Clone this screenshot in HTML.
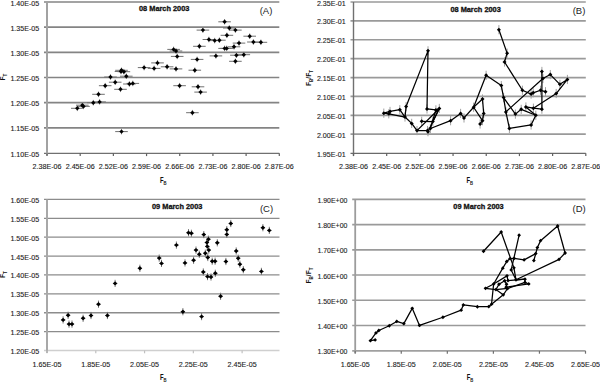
<!DOCTYPE html>
<html><head><meta charset="utf-8"><style>
html,body{margin:0;padding:0;background:#fff;width:600px;height:382px;overflow:hidden}
svg{display:block;font-family:"Liberation Sans", sans-serif}
</style></head><body>
<svg width="600" height="382" viewBox="0 0 600 382">
<rect width="600" height="382" fill="#fff"/>
<line x1="44.00" y1="2.00" x2="279.30" y2="2.00" stroke="#848484" stroke-width="1.6"/>
<text x="39.20" y="5.50" font-size="7.8" text-anchor="end" font-weight="normal" fill="#222" stroke="#222" stroke-width="0.12" textLength="28.8" lengthAdjust="spacingAndGlyphs">1.40E-05</text>
<line x1="44.00" y1="27.17" x2="279.30" y2="27.17" stroke="#848484" stroke-width="1.6"/>
<text x="39.20" y="30.67" font-size="7.8" text-anchor="end" font-weight="normal" fill="#222" stroke="#222" stroke-width="0.12" textLength="28.8" lengthAdjust="spacingAndGlyphs">1.35E-05</text>
<line x1="44.00" y1="52.33" x2="279.30" y2="52.33" stroke="#848484" stroke-width="1.6"/>
<text x="39.20" y="55.83" font-size="7.8" text-anchor="end" font-weight="normal" fill="#222" stroke="#222" stroke-width="0.12" textLength="28.8" lengthAdjust="spacingAndGlyphs">1.30E-05</text>
<line x1="44.00" y1="77.50" x2="279.30" y2="77.50" stroke="#848484" stroke-width="1.6"/>
<text x="39.20" y="81.00" font-size="7.8" text-anchor="end" font-weight="normal" fill="#222" stroke="#222" stroke-width="0.12" textLength="28.8" lengthAdjust="spacingAndGlyphs">1.25E-05</text>
<line x1="44.00" y1="102.67" x2="279.30" y2="102.67" stroke="#848484" stroke-width="1.6"/>
<text x="39.20" y="106.17" font-size="7.8" text-anchor="end" font-weight="normal" fill="#222" stroke="#222" stroke-width="0.12" textLength="28.8" lengthAdjust="spacingAndGlyphs">1.20E-05</text>
<line x1="44.00" y1="127.83" x2="279.30" y2="127.83" stroke="#848484" stroke-width="1.6"/>
<text x="39.20" y="131.33" font-size="7.8" text-anchor="end" font-weight="normal" fill="#222" stroke="#222" stroke-width="0.12" textLength="28.8" lengthAdjust="spacingAndGlyphs">1.15E-05</text>
<line x1="44.00" y1="153.30" x2="279.30" y2="153.30" stroke="#707070" stroke-width="1.3"/>
<text x="39.20" y="156.50" font-size="7.8" text-anchor="end" font-weight="normal" fill="#222" stroke="#222" stroke-width="0.12" textLength="28.8" lengthAdjust="spacingAndGlyphs">1.10E-05</text>
<line x1="47.00" y1="2.00" x2="47.00" y2="155.50" stroke="#a2a2a2" stroke-width="2.0"/>
<line x1="47.00" y1="153.30" x2="47.00" y2="156.10" stroke="#606060" stroke-width="1.2"/>
<text x="47.00" y="169.30" font-size="7.8" text-anchor="middle" font-weight="normal" fill="#222" stroke="#222" stroke-width="0.12" textLength="29" lengthAdjust="spacingAndGlyphs">2.38E-06</text>
<line x1="80.19" y1="153.30" x2="80.19" y2="156.10" stroke="#606060" stroke-width="1.2"/>
<text x="80.19" y="169.30" font-size="7.8" text-anchor="middle" font-weight="normal" fill="#222" stroke="#222" stroke-width="0.12" textLength="29" lengthAdjust="spacingAndGlyphs">2.45E-06</text>
<line x1="113.37" y1="153.30" x2="113.37" y2="156.10" stroke="#606060" stroke-width="1.2"/>
<text x="113.37" y="169.30" font-size="7.8" text-anchor="middle" font-weight="normal" fill="#222" stroke="#222" stroke-width="0.12" textLength="29" lengthAdjust="spacingAndGlyphs">2.52E-06</text>
<line x1="146.56" y1="153.30" x2="146.56" y2="156.10" stroke="#606060" stroke-width="1.2"/>
<text x="146.56" y="169.30" font-size="7.8" text-anchor="middle" font-weight="normal" fill="#222" stroke="#222" stroke-width="0.12" textLength="29" lengthAdjust="spacingAndGlyphs">2.59E-06</text>
<line x1="179.74" y1="153.30" x2="179.74" y2="156.10" stroke="#606060" stroke-width="1.2"/>
<text x="179.74" y="169.30" font-size="7.8" text-anchor="middle" font-weight="normal" fill="#222" stroke="#222" stroke-width="0.12" textLength="29" lengthAdjust="spacingAndGlyphs">2.66E-06</text>
<line x1="212.93" y1="153.30" x2="212.93" y2="156.10" stroke="#606060" stroke-width="1.2"/>
<text x="212.93" y="169.30" font-size="7.8" text-anchor="middle" font-weight="normal" fill="#222" stroke="#222" stroke-width="0.12" textLength="29" lengthAdjust="spacingAndGlyphs">2.73E-06</text>
<line x1="246.11" y1="153.30" x2="246.11" y2="156.10" stroke="#606060" stroke-width="1.2"/>
<text x="246.11" y="169.30" font-size="7.8" text-anchor="middle" font-weight="normal" fill="#222" stroke="#222" stroke-width="0.12" textLength="29" lengthAdjust="spacingAndGlyphs">2.80E-06</text>
<line x1="279.30" y1="153.30" x2="279.30" y2="156.10" stroke="#606060" stroke-width="1.2"/>
<text x="279.30" y="169.30" font-size="7.8" text-anchor="middle" font-weight="normal" fill="#222" stroke="#222" stroke-width="0.12" textLength="29" lengthAdjust="spacingAndGlyphs">2.87E-06</text>
<text x="139" y="11.0" font-size="7.4" font-weight="bold" fill="#111" stroke="#111" stroke-width="0.3" textLength="50.4" lengthAdjust="spacingAndGlyphs">08 March 2003</text>
<text x="259.7" y="14.4" font-size="9.5" fill="#222">(A)</text>
<g transform="translate(160,182.7) scale(0.72,1)"><text font-size="8.2" font-weight="bold" fill="#111">F<tspan font-size="5.8" dy="1.9">B</tspan></text></g>
<g transform="translate(5.0,77.0) rotate(-90) scale(0.84,1)"><text font-size="7.8" font-weight="bold" text-anchor="middle" fill="#111">F<tspan font-size="5.4" dy="2.2">T</tspan></text></g>
<line x1="350.50" y1="2.00" x2="585.80" y2="2.00" stroke="#9a9a9a" stroke-width="1.7"/>
<text x="345.70" y="5.50" font-size="7.8" text-anchor="end" font-weight="normal" fill="#222" stroke="#222" stroke-width="0.12" textLength="28.8" lengthAdjust="spacingAndGlyphs">2.35E-01</text>
<line x1="350.50" y1="20.89" x2="585.80" y2="20.89" stroke="#9a9a9a" stroke-width="1.7"/>
<text x="345.70" y="24.39" font-size="7.8" text-anchor="end" font-weight="normal" fill="#222" stroke="#222" stroke-width="0.12" textLength="28.8" lengthAdjust="spacingAndGlyphs">2.30E-01</text>
<line x1="350.50" y1="39.77" x2="585.80" y2="39.77" stroke="#9a9a9a" stroke-width="1.7"/>
<text x="345.70" y="43.27" font-size="7.8" text-anchor="end" font-weight="normal" fill="#222" stroke="#222" stroke-width="0.12" textLength="28.8" lengthAdjust="spacingAndGlyphs">2.25E-01</text>
<line x1="350.50" y1="58.66" x2="585.80" y2="58.66" stroke="#9a9a9a" stroke-width="1.7"/>
<text x="345.70" y="62.16" font-size="7.8" text-anchor="end" font-weight="normal" fill="#222" stroke="#222" stroke-width="0.12" textLength="28.8" lengthAdjust="spacingAndGlyphs">2.20E-01</text>
<line x1="350.50" y1="77.55" x2="585.80" y2="77.55" stroke="#9a9a9a" stroke-width="1.7"/>
<text x="345.70" y="81.05" font-size="7.8" text-anchor="end" font-weight="normal" fill="#222" stroke="#222" stroke-width="0.12" textLength="28.8" lengthAdjust="spacingAndGlyphs">2.15E-01</text>
<line x1="350.50" y1="96.44" x2="585.80" y2="96.44" stroke="#9a9a9a" stroke-width="1.7"/>
<text x="345.70" y="99.94" font-size="7.8" text-anchor="end" font-weight="normal" fill="#222" stroke="#222" stroke-width="0.12" textLength="28.8" lengthAdjust="spacingAndGlyphs">2.10E-01</text>
<line x1="350.50" y1="115.32" x2="585.80" y2="115.32" stroke="#9a9a9a" stroke-width="1.7"/>
<text x="345.70" y="118.82" font-size="7.8" text-anchor="end" font-weight="normal" fill="#222" stroke="#222" stroke-width="0.12" textLength="28.8" lengthAdjust="spacingAndGlyphs">2.05E-01</text>
<line x1="350.50" y1="134.21" x2="585.80" y2="134.21" stroke="#9a9a9a" stroke-width="1.7"/>
<text x="345.70" y="137.71" font-size="7.8" text-anchor="end" font-weight="normal" fill="#222" stroke="#222" stroke-width="0.12" textLength="28.8" lengthAdjust="spacingAndGlyphs">2.00E-01</text>
<line x1="350.50" y1="153.30" x2="585.80" y2="153.30" stroke="#6a6a6a" stroke-width="1.3"/>
<text x="345.70" y="156.60" font-size="7.8" text-anchor="end" font-weight="normal" fill="#222" stroke="#222" stroke-width="0.12" textLength="28.8" lengthAdjust="spacingAndGlyphs">1.95E-01</text>
<line x1="353.50" y1="2.00" x2="353.50" y2="155.60" stroke="#707070" stroke-width="1.4"/>
<line x1="353.50" y1="153.30" x2="353.50" y2="156.10" stroke="#606060" stroke-width="1.2"/>
<text x="353.50" y="169.40" font-size="7.8" text-anchor="middle" font-weight="normal" fill="#222" stroke="#222" stroke-width="0.12" textLength="29" lengthAdjust="spacingAndGlyphs">2.38E-06</text>
<line x1="386.69" y1="153.30" x2="386.69" y2="156.10" stroke="#606060" stroke-width="1.2"/>
<text x="386.69" y="169.40" font-size="7.8" text-anchor="middle" font-weight="normal" fill="#222" stroke="#222" stroke-width="0.12" textLength="29" lengthAdjust="spacingAndGlyphs">2.45E-06</text>
<line x1="419.87" y1="153.30" x2="419.87" y2="156.10" stroke="#606060" stroke-width="1.2"/>
<text x="419.87" y="169.40" font-size="7.8" text-anchor="middle" font-weight="normal" fill="#222" stroke="#222" stroke-width="0.12" textLength="29" lengthAdjust="spacingAndGlyphs">2.52E-06</text>
<line x1="453.06" y1="153.30" x2="453.06" y2="156.10" stroke="#606060" stroke-width="1.2"/>
<text x="453.06" y="169.40" font-size="7.8" text-anchor="middle" font-weight="normal" fill="#222" stroke="#222" stroke-width="0.12" textLength="29" lengthAdjust="spacingAndGlyphs">2.59E-06</text>
<line x1="486.24" y1="153.30" x2="486.24" y2="156.10" stroke="#606060" stroke-width="1.2"/>
<text x="486.24" y="169.40" font-size="7.8" text-anchor="middle" font-weight="normal" fill="#222" stroke="#222" stroke-width="0.12" textLength="29" lengthAdjust="spacingAndGlyphs">2.66E-06</text>
<line x1="519.43" y1="153.30" x2="519.43" y2="156.10" stroke="#606060" stroke-width="1.2"/>
<text x="519.43" y="169.40" font-size="7.8" text-anchor="middle" font-weight="normal" fill="#222" stroke="#222" stroke-width="0.12" textLength="29" lengthAdjust="spacingAndGlyphs">2.73E-06</text>
<line x1="552.61" y1="153.30" x2="552.61" y2="156.10" stroke="#606060" stroke-width="1.2"/>
<text x="552.61" y="169.40" font-size="7.8" text-anchor="middle" font-weight="normal" fill="#222" stroke="#222" stroke-width="0.12" textLength="29" lengthAdjust="spacingAndGlyphs">2.80E-06</text>
<line x1="585.80" y1="153.30" x2="585.80" y2="156.10" stroke="#606060" stroke-width="1.2"/>
<text x="585.80" y="169.40" font-size="7.8" text-anchor="middle" font-weight="normal" fill="#222" stroke="#222" stroke-width="0.12" textLength="29" lengthAdjust="spacingAndGlyphs">2.87E-06</text>
<text x="450.4" y="11.7" font-size="7.4" font-weight="bold" fill="#111" stroke="#111" stroke-width="0.3" textLength="50.4" lengthAdjust="spacingAndGlyphs">08 March 2003</text>
<text x="572.7" y="14.4" font-size="9.5" fill="#222">(B)</text>
<g transform="translate(466.5,182.79999999999998) scale(0.72,1)"><text font-size="8.2" font-weight="bold" fill="#111">F<tspan font-size="5.8" dy="1.9">B</tspan></text></g>
<g transform="translate(311.0,78.0) rotate(-90) scale(0.84,1)"><text font-size="7.8" font-weight="bold" text-anchor="middle" fill="#111">F<tspan font-size="5.4" dy="2.2">B</tspan><tspan dy="-2.2">/F</tspan><tspan font-size="5.4" dy="2.2">T</tspan></text></g>
<line x1="44.00" y1="199.40" x2="279.50" y2="199.40" stroke="#8c8c8c" stroke-width="1.3"/>
<text x="39.20" y="202.90" font-size="7.8" text-anchor="end" font-weight="normal" fill="#222" stroke="#222" stroke-width="0.12" textLength="28.8" lengthAdjust="spacingAndGlyphs">1.60E-05</text>
<line x1="44.00" y1="218.29" x2="279.50" y2="218.29" stroke="#8c8c8c" stroke-width="1.3"/>
<text x="39.20" y="221.79" font-size="7.8" text-anchor="end" font-weight="normal" fill="#222" stroke="#222" stroke-width="0.12" textLength="28.8" lengthAdjust="spacingAndGlyphs">1.55E-05</text>
<line x1="44.00" y1="237.18" x2="279.50" y2="237.18" stroke="#8c8c8c" stroke-width="1.3"/>
<text x="39.20" y="240.68" font-size="7.8" text-anchor="end" font-weight="normal" fill="#222" stroke="#222" stroke-width="0.12" textLength="28.8" lengthAdjust="spacingAndGlyphs">1.50E-05</text>
<line x1="44.00" y1="256.06" x2="279.50" y2="256.06" stroke="#8c8c8c" stroke-width="1.3"/>
<text x="39.20" y="259.56" font-size="7.8" text-anchor="end" font-weight="normal" fill="#222" stroke="#222" stroke-width="0.12" textLength="28.8" lengthAdjust="spacingAndGlyphs">1.45E-05</text>
<line x1="44.00" y1="274.95" x2="279.50" y2="274.95" stroke="#8c8c8c" stroke-width="1.3"/>
<text x="39.20" y="278.45" font-size="7.8" text-anchor="end" font-weight="normal" fill="#222" stroke="#222" stroke-width="0.12" textLength="28.8" lengthAdjust="spacingAndGlyphs">1.40E-05</text>
<line x1="44.00" y1="293.84" x2="279.50" y2="293.84" stroke="#8c8c8c" stroke-width="1.3"/>
<text x="39.20" y="297.34" font-size="7.8" text-anchor="end" font-weight="normal" fill="#222" stroke="#222" stroke-width="0.12" textLength="28.8" lengthAdjust="spacingAndGlyphs">1.35E-05</text>
<line x1="44.00" y1="312.73" x2="279.50" y2="312.73" stroke="#8c8c8c" stroke-width="1.3"/>
<text x="39.20" y="316.23" font-size="7.8" text-anchor="end" font-weight="normal" fill="#222" stroke="#222" stroke-width="0.12" textLength="28.8" lengthAdjust="spacingAndGlyphs">1.30E-05</text>
<line x1="44.00" y1="331.61" x2="279.50" y2="331.61" stroke="#8c8c8c" stroke-width="1.3"/>
<text x="39.20" y="335.11" font-size="7.8" text-anchor="end" font-weight="normal" fill="#222" stroke="#222" stroke-width="0.12" textLength="28.8" lengthAdjust="spacingAndGlyphs">1.25E-05</text>
<line x1="44.00" y1="350.50" x2="279.50" y2="350.50" stroke="#cfcfcf" stroke-width="1.5"/>
<text x="39.20" y="354.00" font-size="7.8" text-anchor="end" font-weight="normal" fill="#222" stroke="#222" stroke-width="0.12" textLength="28.8" lengthAdjust="spacingAndGlyphs">1.20E-05</text>
<line x1="47.00" y1="199.40" x2="47.00" y2="353.00" stroke="#a8a8a8" stroke-width="2.0"/>
<line x1="47.00" y1="350.50" x2="47.00" y2="353.30" stroke="#c0c0c0" stroke-width="1.2"/>
<text x="47.00" y="366.80" font-size="7.8" text-anchor="middle" font-weight="normal" fill="#222" stroke="#222" stroke-width="0.12" textLength="29" lengthAdjust="spacingAndGlyphs">1.65E-05</text>
<line x1="95.78" y1="350.50" x2="95.78" y2="353.30" stroke="#c0c0c0" stroke-width="1.2"/>
<text x="95.78" y="366.80" font-size="7.8" text-anchor="middle" font-weight="normal" fill="#222" stroke="#222" stroke-width="0.12" textLength="29" lengthAdjust="spacingAndGlyphs">1.85E-05</text>
<line x1="144.56" y1="350.50" x2="144.56" y2="353.30" stroke="#c0c0c0" stroke-width="1.2"/>
<text x="144.56" y="366.80" font-size="7.8" text-anchor="middle" font-weight="normal" fill="#222" stroke="#222" stroke-width="0.12" textLength="29" lengthAdjust="spacingAndGlyphs">2.05E-05</text>
<line x1="193.34" y1="350.50" x2="193.34" y2="353.30" stroke="#c0c0c0" stroke-width="1.2"/>
<text x="193.34" y="366.80" font-size="7.8" text-anchor="middle" font-weight="normal" fill="#222" stroke="#222" stroke-width="0.12" textLength="29" lengthAdjust="spacingAndGlyphs">2.25E-05</text>
<line x1="242.12" y1="350.50" x2="242.12" y2="353.30" stroke="#c0c0c0" stroke-width="1.2"/>
<text x="242.12" y="366.80" font-size="7.8" text-anchor="middle" font-weight="normal" fill="#222" stroke="#222" stroke-width="0.12" textLength="29" lengthAdjust="spacingAndGlyphs">2.45E-05</text>
<text x="152" y="208.9" font-size="7.4" font-weight="bold" fill="#111" stroke="#111" stroke-width="0.3" textLength="50.4" lengthAdjust="spacingAndGlyphs">09 March 2003</text>
<text x="259.9" y="211.8" font-size="9.5" fill="#222">(C)</text>
<g transform="translate(160,380.2) scale(0.72,1)"><text font-size="8.2" font-weight="bold" fill="#111">F<tspan font-size="5.8" dy="1.9">B</tspan></text></g>
<g transform="translate(5.0,274.6) rotate(-90) scale(0.84,1)"><text font-size="7.8" font-weight="bold" text-anchor="middle" fill="#111">F<tspan font-size="5.4" dy="2.2">T</tspan></text></g>
<line x1="352.20" y1="199.40" x2="585.50" y2="199.40" stroke="#9a9a9a" stroke-width="1.6"/>
<text x="347.40" y="202.90" font-size="7.8" text-anchor="end" font-weight="normal" fill="#222" stroke="#222" stroke-width="0.12" textLength="30.0" lengthAdjust="spacingAndGlyphs">1.90E+00</text>
<line x1="352.20" y1="224.62" x2="585.50" y2="224.62" stroke="#9a9a9a" stroke-width="1.6"/>
<text x="347.40" y="228.12" font-size="7.8" text-anchor="end" font-weight="normal" fill="#222" stroke="#222" stroke-width="0.12" textLength="30.0" lengthAdjust="spacingAndGlyphs">1.80E+00</text>
<line x1="352.20" y1="249.83" x2="585.50" y2="249.83" stroke="#9a9a9a" stroke-width="1.6"/>
<text x="347.40" y="253.33" font-size="7.8" text-anchor="end" font-weight="normal" fill="#222" stroke="#222" stroke-width="0.12" textLength="30.0" lengthAdjust="spacingAndGlyphs">1.70E+00</text>
<line x1="352.20" y1="275.05" x2="585.50" y2="275.05" stroke="#9a9a9a" stroke-width="1.6"/>
<text x="347.40" y="278.55" font-size="7.8" text-anchor="end" font-weight="normal" fill="#222" stroke="#222" stroke-width="0.12" textLength="30.0" lengthAdjust="spacingAndGlyphs">1.60E+00</text>
<line x1="352.20" y1="300.27" x2="585.50" y2="300.27" stroke="#9a9a9a" stroke-width="1.6"/>
<text x="347.40" y="303.77" font-size="7.8" text-anchor="end" font-weight="normal" fill="#222" stroke="#222" stroke-width="0.12" textLength="30.0" lengthAdjust="spacingAndGlyphs">1.50E+00</text>
<line x1="352.20" y1="325.48" x2="585.50" y2="325.48" stroke="#9a9a9a" stroke-width="1.6"/>
<text x="347.40" y="328.98" font-size="7.8" text-anchor="end" font-weight="normal" fill="#222" stroke="#222" stroke-width="0.12" textLength="30.0" lengthAdjust="spacingAndGlyphs">1.40E+00</text>
<line x1="352.20" y1="350.90" x2="585.50" y2="350.90" stroke="#a0a0a0" stroke-width="1.7"/>
<text x="347.40" y="354.20" font-size="7.8" text-anchor="end" font-weight="normal" fill="#222" stroke="#222" stroke-width="0.12" textLength="30.0" lengthAdjust="spacingAndGlyphs">1.30E+00</text>
<line x1="355.20" y1="199.40" x2="355.20" y2="353.20" stroke="#9c9c9c" stroke-width="1.8"/>
<line x1="355.20" y1="350.90" x2="355.20" y2="353.70" stroke="#707070" stroke-width="1.2"/>
<text x="355.20" y="367.00" font-size="7.8" text-anchor="middle" font-weight="normal" fill="#222" stroke="#222" stroke-width="0.12" textLength="29" lengthAdjust="spacingAndGlyphs">1.65E-05</text>
<line x1="401.26" y1="350.90" x2="401.26" y2="353.70" stroke="#707070" stroke-width="1.2"/>
<text x="401.26" y="367.00" font-size="7.8" text-anchor="middle" font-weight="normal" fill="#222" stroke="#222" stroke-width="0.12" textLength="29" lengthAdjust="spacingAndGlyphs">1.85E-05</text>
<line x1="447.32" y1="350.90" x2="447.32" y2="353.70" stroke="#707070" stroke-width="1.2"/>
<text x="447.32" y="367.00" font-size="7.8" text-anchor="middle" font-weight="normal" fill="#222" stroke="#222" stroke-width="0.12" textLength="29" lengthAdjust="spacingAndGlyphs">2.05E-05</text>
<line x1="493.38" y1="350.90" x2="493.38" y2="353.70" stroke="#707070" stroke-width="1.2"/>
<text x="493.38" y="367.00" font-size="7.8" text-anchor="middle" font-weight="normal" fill="#222" stroke="#222" stroke-width="0.12" textLength="29" lengthAdjust="spacingAndGlyphs">2.25E-05</text>
<line x1="539.44" y1="350.90" x2="539.44" y2="353.70" stroke="#707070" stroke-width="1.2"/>
<text x="539.44" y="367.00" font-size="7.8" text-anchor="middle" font-weight="normal" fill="#222" stroke="#222" stroke-width="0.12" textLength="29" lengthAdjust="spacingAndGlyphs">2.45E-05</text>
<line x1="585.50" y1="350.90" x2="585.50" y2="353.70" stroke="#707070" stroke-width="1.2"/>
<text x="585.50" y="367.00" font-size="7.8" text-anchor="middle" font-weight="normal" fill="#222" stroke="#222" stroke-width="0.12" textLength="29" lengthAdjust="spacingAndGlyphs">2.65E-05</text>
<text x="453.3" y="209.20000000000002" font-size="7.4" font-weight="bold" fill="#111" stroke="#111" stroke-width="0.3" textLength="50.4" lengthAdjust="spacingAndGlyphs">09 March 2003</text>
<text x="572.5" y="211.8" font-size="9.5" fill="#222">(D)</text>
<g transform="translate(466.7,380.4) scale(0.72,1)"><text font-size="8.2" font-weight="bold" fill="#111">F<tspan font-size="5.8" dy="1.9">B</tspan></text></g>
<g transform="translate(311.0,275.5) rotate(-90) scale(0.84,1)"><text font-size="7.8" font-weight="bold" text-anchor="middle" fill="#111">F<tspan font-size="5.4" dy="2.2">B</tspan><tspan dy="-2.2">/F</tspan><tspan font-size="5.4" dy="2.2">T</tspan></text></g>
<line x1="71.00" y1="108.30" x2="83.60" y2="108.30" stroke="#707070" stroke-width="1.0"/>
<line x1="77.30" y1="105.50" x2="77.30" y2="111.10" stroke="#888" stroke-width="0.9"/>
<line x1="77.20" y1="106.40" x2="89.80" y2="106.40" stroke="#707070" stroke-width="1.0"/>
<line x1="83.50" y1="103.60" x2="83.50" y2="109.20" stroke="#888" stroke-width="0.9"/>
<line x1="87.00" y1="102.70" x2="99.60" y2="102.70" stroke="#707070" stroke-width="1.0"/>
<line x1="93.30" y1="99.90" x2="93.30" y2="105.50" stroke="#888" stroke-width="0.9"/>
<line x1="93.30" y1="101.90" x2="105.90" y2="101.90" stroke="#707070" stroke-width="1.0"/>
<line x1="99.60" y1="99.10" x2="99.60" y2="104.70" stroke="#888" stroke-width="0.9"/>
<line x1="92.20" y1="94.30" x2="104.80" y2="94.30" stroke="#707070" stroke-width="1.0"/>
<line x1="98.50" y1="91.50" x2="98.50" y2="97.10" stroke="#888" stroke-width="0.9"/>
<line x1="98.90" y1="85.70" x2="111.50" y2="85.70" stroke="#707070" stroke-width="1.0"/>
<line x1="105.20" y1="82.90" x2="105.20" y2="88.50" stroke="#888" stroke-width="0.9"/>
<line x1="104.20" y1="77.00" x2="116.80" y2="77.00" stroke="#707070" stroke-width="1.0"/>
<line x1="110.50" y1="74.20" x2="110.50" y2="79.80" stroke="#888" stroke-width="0.9"/>
<line x1="108.90" y1="82.20" x2="121.50" y2="82.20" stroke="#707070" stroke-width="1.0"/>
<line x1="115.20" y1="79.40" x2="115.20" y2="85.00" stroke="#888" stroke-width="0.9"/>
<line x1="114.20" y1="89.30" x2="126.80" y2="89.30" stroke="#707070" stroke-width="1.0"/>
<line x1="120.50" y1="86.50" x2="120.50" y2="92.10" stroke="#888" stroke-width="0.9"/>
<line x1="114.70" y1="71.50" x2="127.30" y2="71.50" stroke="#707070" stroke-width="1.0"/>
<line x1="121.00" y1="68.70" x2="121.00" y2="74.30" stroke="#888" stroke-width="0.9"/>
<line x1="115.20" y1="70.30" x2="127.80" y2="70.30" stroke="#707070" stroke-width="1.0"/>
<line x1="121.50" y1="67.50" x2="121.50" y2="73.10" stroke="#888" stroke-width="0.9"/>
<line x1="117.60" y1="71.70" x2="130.20" y2="71.70" stroke="#707070" stroke-width="1.0"/>
<line x1="123.90" y1="68.90" x2="123.90" y2="74.50" stroke="#888" stroke-width="0.9"/>
<line x1="120.00" y1="76.20" x2="132.60" y2="76.20" stroke="#707070" stroke-width="1.0"/>
<line x1="126.30" y1="73.40" x2="126.30" y2="79.00" stroke="#888" stroke-width="0.9"/>
<line x1="123.10" y1="84.00" x2="135.70" y2="84.00" stroke="#707070" stroke-width="1.0"/>
<line x1="129.40" y1="81.20" x2="129.40" y2="86.80" stroke="#888" stroke-width="0.9"/>
<line x1="126.50" y1="83.40" x2="139.10" y2="83.40" stroke="#707070" stroke-width="1.0"/>
<line x1="132.80" y1="80.60" x2="132.80" y2="86.20" stroke="#888" stroke-width="0.9"/>
<line x1="115.20" y1="131.60" x2="127.80" y2="131.60" stroke="#707070" stroke-width="1.0"/>
<line x1="121.50" y1="128.80" x2="121.50" y2="134.40" stroke="#888" stroke-width="0.9"/>
<line x1="137.80" y1="67.60" x2="150.40" y2="67.60" stroke="#707070" stroke-width="1.0"/>
<line x1="144.10" y1="64.80" x2="144.10" y2="70.40" stroke="#888" stroke-width="0.9"/>
<line x1="147.80" y1="68.40" x2="160.40" y2="68.40" stroke="#707070" stroke-width="1.0"/>
<line x1="154.10" y1="65.60" x2="154.10" y2="71.20" stroke="#888" stroke-width="0.9"/>
<line x1="151.20" y1="62.90" x2="163.80" y2="62.90" stroke="#707070" stroke-width="1.0"/>
<line x1="157.50" y1="60.10" x2="157.50" y2="65.70" stroke="#888" stroke-width="0.9"/>
<line x1="160.80" y1="66.80" x2="173.40" y2="66.80" stroke="#707070" stroke-width="1.0"/>
<line x1="167.10" y1="64.00" x2="167.10" y2="69.60" stroke="#888" stroke-width="0.9"/>
<line x1="169.70" y1="68.90" x2="182.30" y2="68.90" stroke="#707070" stroke-width="1.0"/>
<line x1="176.00" y1="66.10" x2="176.00" y2="71.70" stroke="#888" stroke-width="0.9"/>
<line x1="167.30" y1="49.40" x2="179.90" y2="49.40" stroke="#707070" stroke-width="1.0"/>
<line x1="173.60" y1="46.60" x2="173.60" y2="52.20" stroke="#888" stroke-width="0.9"/>
<line x1="169.70" y1="51.00" x2="182.30" y2="51.00" stroke="#707070" stroke-width="1.0"/>
<line x1="176.00" y1="48.20" x2="176.00" y2="53.80" stroke="#888" stroke-width="0.9"/>
<line x1="170.90" y1="56.40" x2="183.50" y2="56.40" stroke="#707070" stroke-width="1.0"/>
<line x1="177.20" y1="53.60" x2="177.20" y2="59.20" stroke="#888" stroke-width="0.9"/>
<line x1="173.30" y1="85.70" x2="185.90" y2="85.70" stroke="#707070" stroke-width="1.0"/>
<line x1="179.60" y1="82.90" x2="179.60" y2="88.50" stroke="#888" stroke-width="0.9"/>
<line x1="191.70" y1="86.80" x2="204.30" y2="86.80" stroke="#707070" stroke-width="1.0"/>
<line x1="198.00" y1="84.00" x2="198.00" y2="89.60" stroke="#888" stroke-width="0.9"/>
<line x1="194.30" y1="92.10" x2="206.90" y2="92.10" stroke="#707070" stroke-width="1.0"/>
<line x1="200.60" y1="89.30" x2="200.60" y2="94.90" stroke="#888" stroke-width="0.9"/>
<line x1="186.10" y1="112.70" x2="198.70" y2="112.70" stroke="#707070" stroke-width="1.0"/>
<line x1="192.40" y1="109.90" x2="192.40" y2="115.50" stroke="#888" stroke-width="0.9"/>
<line x1="193.10" y1="46.30" x2="205.70" y2="46.30" stroke="#707070" stroke-width="1.0"/>
<line x1="199.40" y1="43.50" x2="199.40" y2="49.10" stroke="#888" stroke-width="0.9"/>
<line x1="190.80" y1="59.40" x2="203.40" y2="59.40" stroke="#707070" stroke-width="1.0"/>
<line x1="197.10" y1="56.60" x2="197.10" y2="62.20" stroke="#888" stroke-width="0.9"/>
<line x1="188.50" y1="70.20" x2="201.10" y2="70.20" stroke="#707070" stroke-width="1.0"/>
<line x1="194.80" y1="67.40" x2="194.80" y2="73.00" stroke="#888" stroke-width="0.9"/>
<line x1="196.60" y1="30.10" x2="209.20" y2="30.10" stroke="#707070" stroke-width="1.0"/>
<line x1="202.90" y1="27.30" x2="202.90" y2="32.90" stroke="#888" stroke-width="0.9"/>
<line x1="202.60" y1="39.50" x2="215.20" y2="39.50" stroke="#707070" stroke-width="1.0"/>
<line x1="208.90" y1="36.70" x2="208.90" y2="42.30" stroke="#888" stroke-width="0.9"/>
<line x1="208.40" y1="40.60" x2="221.00" y2="40.60" stroke="#707070" stroke-width="1.0"/>
<line x1="214.70" y1="37.80" x2="214.70" y2="43.40" stroke="#888" stroke-width="0.9"/>
<line x1="213.10" y1="40.20" x2="225.70" y2="40.20" stroke="#707070" stroke-width="1.0"/>
<line x1="219.40" y1="37.40" x2="219.40" y2="43.00" stroke="#888" stroke-width="0.9"/>
<line x1="218.30" y1="21.80" x2="230.90" y2="21.80" stroke="#707070" stroke-width="1.0"/>
<line x1="224.60" y1="19.00" x2="224.60" y2="24.60" stroke="#888" stroke-width="0.9"/>
<line x1="223.00" y1="28.00" x2="235.60" y2="28.00" stroke="#707070" stroke-width="1.0"/>
<line x1="229.30" y1="25.20" x2="229.30" y2="30.80" stroke="#888" stroke-width="0.9"/>
<line x1="229.10" y1="30.10" x2="241.70" y2="30.10" stroke="#707070" stroke-width="1.0"/>
<line x1="235.40" y1="27.30" x2="235.40" y2="32.90" stroke="#888" stroke-width="0.9"/>
<line x1="220.60" y1="35.30" x2="233.20" y2="35.30" stroke="#707070" stroke-width="1.0"/>
<line x1="226.90" y1="32.50" x2="226.90" y2="38.10" stroke="#888" stroke-width="0.9"/>
<line x1="243.40" y1="36.20" x2="256.00" y2="36.20" stroke="#707070" stroke-width="1.0"/>
<line x1="249.70" y1="33.40" x2="249.70" y2="39.00" stroke="#888" stroke-width="0.9"/>
<line x1="247.10" y1="42.00" x2="259.70" y2="42.00" stroke="#707070" stroke-width="1.0"/>
<line x1="253.40" y1="39.20" x2="253.40" y2="44.80" stroke="#888" stroke-width="0.9"/>
<line x1="254.60" y1="42.30" x2="267.20" y2="42.30" stroke="#707070" stroke-width="1.0"/>
<line x1="260.90" y1="39.50" x2="260.90" y2="45.10" stroke="#888" stroke-width="0.9"/>
<line x1="232.70" y1="43.10" x2="245.30" y2="43.10" stroke="#707070" stroke-width="1.0"/>
<line x1="239.00" y1="40.30" x2="239.00" y2="45.90" stroke="#888" stroke-width="0.9"/>
<line x1="227.70" y1="46.80" x2="240.30" y2="46.80" stroke="#707070" stroke-width="1.0"/>
<line x1="234.00" y1="44.00" x2="234.00" y2="49.60" stroke="#888" stroke-width="0.9"/>
<line x1="218.30" y1="48.40" x2="230.90" y2="48.40" stroke="#707070" stroke-width="1.0"/>
<line x1="224.60" y1="45.60" x2="224.60" y2="51.20" stroke="#888" stroke-width="0.9"/>
<line x1="220.40" y1="48.40" x2="233.00" y2="48.40" stroke="#707070" stroke-width="1.0"/>
<line x1="226.70" y1="45.60" x2="226.70" y2="51.20" stroke="#888" stroke-width="0.9"/>
<line x1="209.60" y1="55.90" x2="222.20" y2="55.90" stroke="#707070" stroke-width="1.0"/>
<line x1="215.90" y1="53.10" x2="215.90" y2="58.70" stroke="#888" stroke-width="0.9"/>
<line x1="230.10" y1="55.20" x2="242.70" y2="55.20" stroke="#707070" stroke-width="1.0"/>
<line x1="236.40" y1="52.40" x2="236.40" y2="58.00" stroke="#888" stroke-width="0.9"/>
<line x1="237.50" y1="54.70" x2="250.10" y2="54.70" stroke="#707070" stroke-width="1.0"/>
<line x1="243.80" y1="51.90" x2="243.80" y2="57.50" stroke="#888" stroke-width="0.9"/>
<line x1="229.10" y1="61.30" x2="241.70" y2="61.30" stroke="#707070" stroke-width="1.0"/>
<line x1="235.40" y1="58.50" x2="235.40" y2="64.10" stroke="#888" stroke-width="0.9"/>
<line x1="76.00" y1="105.20" x2="88.60" y2="105.20" stroke="#707070" stroke-width="1.0"/>
<line x1="82.30" y1="102.40" x2="82.30" y2="108.00" stroke="#888" stroke-width="0.9"/>
<path d="M75.10 108.30L77.30 106.10L79.50 108.30L77.30 110.50Z" fill="#000"/>
<path d="M81.30 106.40L83.50 104.20L85.70 106.40L83.50 108.60Z" fill="#000"/>
<path d="M91.10 102.70L93.30 100.50L95.50 102.70L93.30 104.90Z" fill="#000"/>
<path d="M97.40 101.90L99.60 99.70L101.80 101.90L99.60 104.10Z" fill="#000"/>
<path d="M96.30 94.30L98.50 92.10L100.70 94.30L98.50 96.50Z" fill="#000"/>
<path d="M103.00 85.70L105.20 83.50L107.40 85.70L105.20 87.90Z" fill="#000"/>
<path d="M108.30 77.00L110.50 74.80L112.70 77.00L110.50 79.20Z" fill="#000"/>
<path d="M113.00 82.20L115.20 80.00L117.40 82.20L115.20 84.40Z" fill="#000"/>
<path d="M118.30 89.30L120.50 87.10L122.70 89.30L120.50 91.50Z" fill="#000"/>
<path d="M118.80 71.50L121.00 69.30L123.20 71.50L121.00 73.70Z" fill="#000"/>
<path d="M119.30 70.30L121.50 68.10L123.70 70.30L121.50 72.50Z" fill="#000"/>
<path d="M121.70 71.70L123.90 69.50L126.10 71.70L123.90 73.90Z" fill="#000"/>
<path d="M124.10 76.20L126.30 74.00L128.50 76.20L126.30 78.40Z" fill="#000"/>
<path d="M127.20 84.00L129.40 81.80L131.60 84.00L129.40 86.20Z" fill="#000"/>
<path d="M130.60 83.40L132.80 81.20L135.00 83.40L132.80 85.60Z" fill="#000"/>
<path d="M119.30 131.60L121.50 129.40L123.70 131.60L121.50 133.80Z" fill="#000"/>
<path d="M141.90 67.60L144.10 65.40L146.30 67.60L144.10 69.80Z" fill="#000"/>
<path d="M151.90 68.40L154.10 66.20L156.30 68.40L154.10 70.60Z" fill="#000"/>
<path d="M155.30 62.90L157.50 60.70L159.70 62.90L157.50 65.10Z" fill="#000"/>
<path d="M164.90 66.80L167.10 64.60L169.30 66.80L167.10 69.00Z" fill="#000"/>
<path d="M173.80 68.90L176.00 66.70L178.20 68.90L176.00 71.10Z" fill="#000"/>
<path d="M171.40 49.40L173.60 47.20L175.80 49.40L173.60 51.60Z" fill="#000"/>
<path d="M173.80 51.00L176.00 48.80L178.20 51.00L176.00 53.20Z" fill="#000"/>
<path d="M175.00 56.40L177.20 54.20L179.40 56.40L177.20 58.60Z" fill="#000"/>
<path d="M177.40 85.70L179.60 83.50L181.80 85.70L179.60 87.90Z" fill="#000"/>
<path d="M195.80 86.80L198.00 84.60L200.20 86.80L198.00 89.00Z" fill="#000"/>
<path d="M198.40 92.10L200.60 89.90L202.80 92.10L200.60 94.30Z" fill="#000"/>
<path d="M190.20 112.70L192.40 110.50L194.60 112.70L192.40 114.90Z" fill="#000"/>
<path d="M197.20 46.30L199.40 44.10L201.60 46.30L199.40 48.50Z" fill="#000"/>
<path d="M194.90 59.40L197.10 57.20L199.30 59.40L197.10 61.60Z" fill="#000"/>
<path d="M192.60 70.20L194.80 68.00L197.00 70.20L194.80 72.40Z" fill="#000"/>
<path d="M200.70 30.10L202.90 27.90L205.10 30.10L202.90 32.30Z" fill="#000"/>
<path d="M206.70 39.50L208.90 37.30L211.10 39.50L208.90 41.70Z" fill="#000"/>
<path d="M212.50 40.60L214.70 38.40L216.90 40.60L214.70 42.80Z" fill="#000"/>
<path d="M217.20 40.20L219.40 38.00L221.60 40.20L219.40 42.40Z" fill="#000"/>
<path d="M222.40 21.80L224.60 19.60L226.80 21.80L224.60 24.00Z" fill="#000"/>
<path d="M227.10 28.00L229.30 25.80L231.50 28.00L229.30 30.20Z" fill="#000"/>
<path d="M233.20 30.10L235.40 27.90L237.60 30.10L235.40 32.30Z" fill="#000"/>
<path d="M224.70 35.30L226.90 33.10L229.10 35.30L226.90 37.50Z" fill="#000"/>
<path d="M247.50 36.20L249.70 34.00L251.90 36.20L249.70 38.40Z" fill="#000"/>
<path d="M251.20 42.00L253.40 39.80L255.60 42.00L253.40 44.20Z" fill="#000"/>
<path d="M258.70 42.30L260.90 40.10L263.10 42.30L260.90 44.50Z" fill="#000"/>
<path d="M236.80 43.10L239.00 40.90L241.20 43.10L239.00 45.30Z" fill="#000"/>
<path d="M231.80 46.80L234.00 44.60L236.20 46.80L234.00 49.00Z" fill="#000"/>
<path d="M222.40 48.40L224.60 46.20L226.80 48.40L224.60 50.60Z" fill="#000"/>
<path d="M224.50 48.40L226.70 46.20L228.90 48.40L226.70 50.60Z" fill="#000"/>
<path d="M213.70 55.90L215.90 53.70L218.10 55.90L215.90 58.10Z" fill="#000"/>
<path d="M234.20 55.20L236.40 53.00L238.60 55.20L236.40 57.40Z" fill="#000"/>
<path d="M241.60 54.70L243.80 52.50L246.00 54.70L243.80 56.90Z" fill="#000"/>
<path d="M233.20 61.30L235.40 59.10L237.60 61.30L235.40 63.50Z" fill="#000"/>
<path d="M80.10 105.20L82.30 103.00L84.50 105.20L82.30 107.40Z" fill="#000"/>
<line x1="60.90" y1="319.90" x2="65.30" y2="319.90" stroke="#666" stroke-width="1.0"/>
<line x1="63.10" y1="316.30" x2="63.10" y2="323.50" stroke="#777" stroke-width="1.0"/>
<line x1="65.90" y1="315.30" x2="70.30" y2="315.30" stroke="#666" stroke-width="1.0"/>
<line x1="68.10" y1="311.70" x2="68.10" y2="318.90" stroke="#777" stroke-width="1.0"/>
<line x1="66.80" y1="324.10" x2="71.20" y2="324.10" stroke="#666" stroke-width="1.0"/>
<line x1="69.00" y1="320.50" x2="69.00" y2="327.70" stroke="#777" stroke-width="1.0"/>
<line x1="69.80" y1="324.10" x2="74.20" y2="324.10" stroke="#666" stroke-width="1.0"/>
<line x1="72.00" y1="320.50" x2="72.00" y2="327.70" stroke="#777" stroke-width="1.0"/>
<line x1="80.90" y1="318.30" x2="85.30" y2="318.30" stroke="#666" stroke-width="1.0"/>
<line x1="83.10" y1="314.70" x2="83.10" y2="321.90" stroke="#777" stroke-width="1.0"/>
<line x1="88.80" y1="315.50" x2="93.20" y2="315.50" stroke="#666" stroke-width="1.0"/>
<line x1="91.00" y1="311.90" x2="91.00" y2="319.10" stroke="#777" stroke-width="1.0"/>
<line x1="96.30" y1="304.20" x2="100.70" y2="304.20" stroke="#666" stroke-width="1.0"/>
<line x1="98.50" y1="300.60" x2="98.50" y2="307.80" stroke="#777" stroke-width="1.0"/>
<line x1="105.20" y1="315.50" x2="109.60" y2="315.50" stroke="#666" stroke-width="1.0"/>
<line x1="107.40" y1="311.90" x2="107.40" y2="319.10" stroke="#777" stroke-width="1.0"/>
<line x1="112.90" y1="283.40" x2="117.30" y2="283.40" stroke="#666" stroke-width="1.0"/>
<line x1="115.10" y1="279.80" x2="115.10" y2="287.00" stroke="#777" stroke-width="1.0"/>
<line x1="137.70" y1="268.30" x2="142.10" y2="268.30" stroke="#666" stroke-width="1.0"/>
<line x1="139.90" y1="264.70" x2="139.90" y2="271.90" stroke="#777" stroke-width="1.0"/>
<line x1="157.00" y1="258.10" x2="161.40" y2="258.10" stroke="#666" stroke-width="1.0"/>
<line x1="159.20" y1="254.50" x2="159.20" y2="261.70" stroke="#777" stroke-width="1.0"/>
<line x1="159.30" y1="263.40" x2="163.70" y2="263.40" stroke="#666" stroke-width="1.0"/>
<line x1="161.50" y1="259.80" x2="161.50" y2="267.00" stroke="#777" stroke-width="1.0"/>
<line x1="174.20" y1="245.10" x2="178.60" y2="245.10" stroke="#666" stroke-width="1.0"/>
<line x1="176.40" y1="241.50" x2="176.40" y2="248.70" stroke="#777" stroke-width="1.0"/>
<line x1="186.30" y1="232.70" x2="190.70" y2="232.70" stroke="#666" stroke-width="1.0"/>
<line x1="188.50" y1="229.10" x2="188.50" y2="236.30" stroke="#777" stroke-width="1.0"/>
<line x1="189.20" y1="233.30" x2="193.60" y2="233.30" stroke="#666" stroke-width="1.0"/>
<line x1="191.40" y1="229.70" x2="191.40" y2="236.90" stroke="#777" stroke-width="1.0"/>
<line x1="201.60" y1="234.60" x2="206.00" y2="234.60" stroke="#666" stroke-width="1.0"/>
<line x1="203.80" y1="231.00" x2="203.80" y2="238.20" stroke="#777" stroke-width="1.0"/>
<line x1="206.20" y1="239.20" x2="210.60" y2="239.20" stroke="#666" stroke-width="1.0"/>
<line x1="208.40" y1="235.60" x2="208.40" y2="242.80" stroke="#777" stroke-width="1.0"/>
<line x1="204.70" y1="242.50" x2="209.10" y2="242.50" stroke="#666" stroke-width="1.0"/>
<line x1="206.90" y1="238.90" x2="206.90" y2="246.10" stroke="#777" stroke-width="1.0"/>
<line x1="205.10" y1="246.40" x2="209.50" y2="246.40" stroke="#666" stroke-width="1.0"/>
<line x1="207.30" y1="242.80" x2="207.30" y2="250.00" stroke="#777" stroke-width="1.0"/>
<line x1="206.60" y1="250.10" x2="211.00" y2="250.10" stroke="#666" stroke-width="1.0"/>
<line x1="208.80" y1="246.50" x2="208.80" y2="253.70" stroke="#777" stroke-width="1.0"/>
<line x1="203.10" y1="253.20" x2="207.50" y2="253.20" stroke="#666" stroke-width="1.0"/>
<line x1="205.30" y1="249.60" x2="205.30" y2="256.80" stroke="#777" stroke-width="1.0"/>
<line x1="193.80" y1="250.10" x2="198.20" y2="250.10" stroke="#666" stroke-width="1.0"/>
<line x1="196.00" y1="246.50" x2="196.00" y2="253.70" stroke="#777" stroke-width="1.0"/>
<line x1="197.10" y1="254.30" x2="201.50" y2="254.30" stroke="#666" stroke-width="1.0"/>
<line x1="199.30" y1="250.70" x2="199.30" y2="257.90" stroke="#777" stroke-width="1.0"/>
<line x1="205.60" y1="257.50" x2="210.00" y2="257.50" stroke="#666" stroke-width="1.0"/>
<line x1="207.80" y1="253.90" x2="207.80" y2="261.10" stroke="#777" stroke-width="1.0"/>
<line x1="215.10" y1="242.80" x2="219.50" y2="242.80" stroke="#666" stroke-width="1.0"/>
<line x1="217.30" y1="239.20" x2="217.30" y2="246.40" stroke="#777" stroke-width="1.0"/>
<line x1="191.40" y1="260.30" x2="195.80" y2="260.30" stroke="#666" stroke-width="1.0"/>
<line x1="193.60" y1="256.70" x2="193.60" y2="263.90" stroke="#777" stroke-width="1.0"/>
<line x1="182.80" y1="262.90" x2="187.20" y2="262.90" stroke="#666" stroke-width="1.0"/>
<line x1="185.00" y1="259.30" x2="185.00" y2="266.50" stroke="#777" stroke-width="1.0"/>
<line x1="210.00" y1="261.20" x2="214.40" y2="261.20" stroke="#666" stroke-width="1.0"/>
<line x1="212.20" y1="257.60" x2="212.20" y2="264.80" stroke="#777" stroke-width="1.0"/>
<line x1="212.90" y1="261.20" x2="217.30" y2="261.20" stroke="#666" stroke-width="1.0"/>
<line x1="215.10" y1="257.60" x2="215.10" y2="264.80" stroke="#777" stroke-width="1.0"/>
<line x1="223.70" y1="261.50" x2="228.10" y2="261.50" stroke="#666" stroke-width="1.0"/>
<line x1="225.90" y1="257.90" x2="225.90" y2="265.10" stroke="#777" stroke-width="1.0"/>
<line x1="228.60" y1="223.50" x2="233.00" y2="223.50" stroke="#666" stroke-width="1.0"/>
<line x1="230.80" y1="219.90" x2="230.80" y2="227.10" stroke="#777" stroke-width="1.0"/>
<line x1="224.60" y1="229.70" x2="229.00" y2="229.70" stroke="#666" stroke-width="1.0"/>
<line x1="226.80" y1="226.10" x2="226.80" y2="233.30" stroke="#777" stroke-width="1.0"/>
<line x1="224.60" y1="234.40" x2="229.00" y2="234.40" stroke="#666" stroke-width="1.0"/>
<line x1="226.80" y1="230.80" x2="226.80" y2="238.00" stroke="#777" stroke-width="1.0"/>
<line x1="260.70" y1="227.70" x2="265.10" y2="227.70" stroke="#666" stroke-width="1.0"/>
<line x1="262.90" y1="224.10" x2="262.90" y2="231.30" stroke="#777" stroke-width="1.0"/>
<line x1="267.10" y1="230.40" x2="271.50" y2="230.40" stroke="#666" stroke-width="1.0"/>
<line x1="269.30" y1="226.80" x2="269.30" y2="234.00" stroke="#777" stroke-width="1.0"/>
<line x1="234.00" y1="251.00" x2="238.40" y2="251.00" stroke="#666" stroke-width="1.0"/>
<line x1="236.20" y1="247.40" x2="236.20" y2="254.60" stroke="#777" stroke-width="1.0"/>
<line x1="236.00" y1="258.20" x2="240.40" y2="258.20" stroke="#666" stroke-width="1.0"/>
<line x1="238.20" y1="254.60" x2="238.20" y2="261.80" stroke="#777" stroke-width="1.0"/>
<line x1="237.70" y1="264.20" x2="242.10" y2="264.20" stroke="#666" stroke-width="1.0"/>
<line x1="239.90" y1="260.60" x2="239.90" y2="267.80" stroke="#777" stroke-width="1.0"/>
<line x1="241.10" y1="269.70" x2="245.50" y2="269.70" stroke="#666" stroke-width="1.0"/>
<line x1="243.30" y1="266.10" x2="243.30" y2="273.30" stroke="#777" stroke-width="1.0"/>
<line x1="259.20" y1="271.40" x2="263.60" y2="271.40" stroke="#666" stroke-width="1.0"/>
<line x1="261.40" y1="267.80" x2="261.40" y2="275.00" stroke="#777" stroke-width="1.0"/>
<line x1="201.10" y1="272.00" x2="205.50" y2="272.00" stroke="#666" stroke-width="1.0"/>
<line x1="203.30" y1="268.40" x2="203.30" y2="275.60" stroke="#777" stroke-width="1.0"/>
<line x1="205.30" y1="276.60" x2="209.70" y2="276.60" stroke="#666" stroke-width="1.0"/>
<line x1="207.50" y1="273.00" x2="207.50" y2="280.20" stroke="#777" stroke-width="1.0"/>
<line x1="208.80" y1="277.00" x2="213.20" y2="277.00" stroke="#666" stroke-width="1.0"/>
<line x1="211.00" y1="273.40" x2="211.00" y2="280.60" stroke="#777" stroke-width="1.0"/>
<line x1="213.10" y1="273.30" x2="217.50" y2="273.30" stroke="#666" stroke-width="1.0"/>
<line x1="215.30" y1="269.70" x2="215.30" y2="276.90" stroke="#777" stroke-width="1.0"/>
<line x1="218.40" y1="296.30" x2="222.80" y2="296.30" stroke="#666" stroke-width="1.0"/>
<line x1="220.60" y1="292.70" x2="220.60" y2="299.90" stroke="#777" stroke-width="1.0"/>
<line x1="180.70" y1="311.70" x2="185.10" y2="311.70" stroke="#666" stroke-width="1.0"/>
<line x1="182.90" y1="308.10" x2="182.90" y2="315.30" stroke="#777" stroke-width="1.0"/>
<line x1="199.40" y1="316.60" x2="203.80" y2="316.60" stroke="#666" stroke-width="1.0"/>
<line x1="201.60" y1="313.00" x2="201.60" y2="320.20" stroke="#777" stroke-width="1.0"/>
<path d="M60.90 319.90L63.10 317.70L65.30 319.90L63.10 322.10Z" fill="#000"/>
<path d="M65.90 315.30L68.10 313.10L70.30 315.30L68.10 317.50Z" fill="#000"/>
<path d="M66.80 324.10L69.00 321.90L71.20 324.10L69.00 326.30Z" fill="#000"/>
<path d="M69.80 324.10L72.00 321.90L74.20 324.10L72.00 326.30Z" fill="#000"/>
<path d="M80.90 318.30L83.10 316.10L85.30 318.30L83.10 320.50Z" fill="#000"/>
<path d="M88.80 315.50L91.00 313.30L93.20 315.50L91.00 317.70Z" fill="#000"/>
<path d="M96.30 304.20L98.50 302.00L100.70 304.20L98.50 306.40Z" fill="#000"/>
<path d="M105.20 315.50L107.40 313.30L109.60 315.50L107.40 317.70Z" fill="#000"/>
<path d="M112.90 283.40L115.10 281.20L117.30 283.40L115.10 285.60Z" fill="#000"/>
<path d="M137.70 268.30L139.90 266.10L142.10 268.30L139.90 270.50Z" fill="#000"/>
<path d="M157.00 258.10L159.20 255.90L161.40 258.10L159.20 260.30Z" fill="#000"/>
<path d="M159.30 263.40L161.50 261.20L163.70 263.40L161.50 265.60Z" fill="#000"/>
<path d="M174.20 245.10L176.40 242.90L178.60 245.10L176.40 247.30Z" fill="#000"/>
<path d="M186.30 232.70L188.50 230.50L190.70 232.70L188.50 234.90Z" fill="#000"/>
<path d="M189.20 233.30L191.40 231.10L193.60 233.30L191.40 235.50Z" fill="#000"/>
<path d="M201.60 234.60L203.80 232.40L206.00 234.60L203.80 236.80Z" fill="#000"/>
<path d="M206.20 239.20L208.40 237.00L210.60 239.20L208.40 241.40Z" fill="#000"/>
<path d="M204.70 242.50L206.90 240.30L209.10 242.50L206.90 244.70Z" fill="#000"/>
<path d="M205.10 246.40L207.30 244.20L209.50 246.40L207.30 248.60Z" fill="#000"/>
<path d="M206.60 250.10L208.80 247.90L211.00 250.10L208.80 252.30Z" fill="#000"/>
<path d="M203.10 253.20L205.30 251.00L207.50 253.20L205.30 255.40Z" fill="#000"/>
<path d="M193.80 250.10L196.00 247.90L198.20 250.10L196.00 252.30Z" fill="#000"/>
<path d="M197.10 254.30L199.30 252.10L201.50 254.30L199.30 256.50Z" fill="#000"/>
<path d="M205.60 257.50L207.80 255.30L210.00 257.50L207.80 259.70Z" fill="#000"/>
<path d="M215.10 242.80L217.30 240.60L219.50 242.80L217.30 245.00Z" fill="#000"/>
<path d="M191.40 260.30L193.60 258.10L195.80 260.30L193.60 262.50Z" fill="#000"/>
<path d="M182.80 262.90L185.00 260.70L187.20 262.90L185.00 265.10Z" fill="#000"/>
<path d="M210.00 261.20L212.20 259.00L214.40 261.20L212.20 263.40Z" fill="#000"/>
<path d="M212.90 261.20L215.10 259.00L217.30 261.20L215.10 263.40Z" fill="#000"/>
<path d="M223.70 261.50L225.90 259.30L228.10 261.50L225.90 263.70Z" fill="#000"/>
<path d="M228.60 223.50L230.80 221.30L233.00 223.50L230.80 225.70Z" fill="#000"/>
<path d="M224.60 229.70L226.80 227.50L229.00 229.70L226.80 231.90Z" fill="#000"/>
<path d="M224.60 234.40L226.80 232.20L229.00 234.40L226.80 236.60Z" fill="#000"/>
<path d="M260.70 227.70L262.90 225.50L265.10 227.70L262.90 229.90Z" fill="#000"/>
<path d="M267.10 230.40L269.30 228.20L271.50 230.40L269.30 232.60Z" fill="#000"/>
<path d="M234.00 251.00L236.20 248.80L238.40 251.00L236.20 253.20Z" fill="#000"/>
<path d="M236.00 258.20L238.20 256.00L240.40 258.20L238.20 260.40Z" fill="#000"/>
<path d="M237.70 264.20L239.90 262.00L242.10 264.20L239.90 266.40Z" fill="#000"/>
<path d="M241.10 269.70L243.30 267.50L245.50 269.70L243.30 271.90Z" fill="#000"/>
<path d="M259.20 271.40L261.40 269.20L263.60 271.40L261.40 273.60Z" fill="#000"/>
<path d="M201.10 272.00L203.30 269.80L205.50 272.00L203.30 274.20Z" fill="#000"/>
<path d="M205.30 276.60L207.50 274.40L209.70 276.60L207.50 278.80Z" fill="#000"/>
<path d="M208.80 277.00L211.00 274.80L213.20 277.00L211.00 279.20Z" fill="#000"/>
<path d="M213.10 273.30L215.30 271.10L217.50 273.30L215.30 275.50Z" fill="#000"/>
<path d="M218.40 296.30L220.60 294.10L222.80 296.30L220.60 298.50Z" fill="#000"/>
<path d="M180.70 311.70L182.90 309.50L185.10 311.70L182.90 313.90Z" fill="#000"/>
<path d="M199.40 316.60L201.60 314.40L203.80 316.60L201.60 318.80Z" fill="#000"/>
<line x1="383.80" y1="108.55" x2="383.80" y2="117.75" stroke="#a0a0a0" stroke-width="1.0"/>
<line x1="390.00" y1="106.86" x2="390.00" y2="116.06" stroke="#a0a0a0" stroke-width="1.0"/>
<line x1="399.80" y1="105.12" x2="399.80" y2="114.32" stroke="#a0a0a0" stroke-width="1.0"/>
<line x1="406.10" y1="101.98" x2="406.10" y2="111.18" stroke="#a0a0a0" stroke-width="1.0"/>
<line x1="405.00" y1="112.42" x2="405.00" y2="121.62" stroke="#a0a0a0" stroke-width="1.0"/>
<line x1="411.70" y1="118.79" x2="411.70" y2="127.99" stroke="#a0a0a0" stroke-width="1.0"/>
<line x1="417.00" y1="126.00" x2="417.00" y2="135.20" stroke="#a0a0a0" stroke-width="1.0"/>
<line x1="421.70" y1="116.66" x2="421.70" y2="125.86" stroke="#a0a0a0" stroke-width="1.0"/>
<line x1="427.00" y1="104.38" x2="427.00" y2="113.58" stroke="#a0a0a0" stroke-width="1.0"/>
<line x1="427.50" y1="125.95" x2="427.50" y2="135.15" stroke="#a0a0a0" stroke-width="1.0"/>
<line x1="428.00" y1="127.06" x2="428.00" y2="136.26" stroke="#a0a0a0" stroke-width="1.0"/>
<line x1="430.40" y1="123.87" x2="430.40" y2="133.07" stroke="#a0a0a0" stroke-width="1.0"/>
<line x1="432.80" y1="116.91" x2="432.80" y2="126.11" stroke="#a0a0a0" stroke-width="1.0"/>
<line x1="435.90" y1="105.29" x2="435.90" y2="114.49" stroke="#a0a0a0" stroke-width="1.0"/>
<line x1="439.30" y1="103.86" x2="439.30" y2="113.06" stroke="#a0a0a0" stroke-width="1.0"/>
<line x1="428.00" y1="46.26" x2="428.00" y2="55.46" stroke="#a0a0a0" stroke-width="1.0"/>
<line x1="450.60" y1="116.08" x2="450.60" y2="125.28" stroke="#a0a0a0" stroke-width="1.0"/>
<line x1="460.60" y1="108.83" x2="460.60" y2="118.03" stroke="#a0a0a0" stroke-width="1.0"/>
<line x1="464.00" y1="113.35" x2="464.00" y2="122.55" stroke="#a0a0a0" stroke-width="1.0"/>
<line x1="473.60" y1="102.63" x2="473.60" y2="111.83" stroke="#a0a0a0" stroke-width="1.0"/>
<line x1="482.50" y1="94.45" x2="482.50" y2="103.65" stroke="#a0a0a0" stroke-width="1.0"/>
<line x1="480.10" y1="119.38" x2="480.10" y2="128.58" stroke="#a0a0a0" stroke-width="1.0"/>
<line x1="482.50" y1="116.04" x2="482.50" y2="125.24" stroke="#a0a0a0" stroke-width="1.0"/>
<line x1="483.70" y1="108.91" x2="483.70" y2="118.11" stroke="#a0a0a0" stroke-width="1.0"/>
<line x1="486.10" y1="70.74" x2="486.10" y2="79.94" stroke="#a0a0a0" stroke-width="1.0"/>
<line x1="504.50" y1="57.39" x2="504.50" y2="66.59" stroke="#a0a0a0" stroke-width="1.0"/>
<line x1="507.10" y1="48.55" x2="507.10" y2="57.75" stroke="#a0a0a0" stroke-width="1.0"/>
<line x1="498.90" y1="25.08" x2="498.90" y2="34.28" stroke="#a0a0a0" stroke-width="1.0"/>
<line x1="505.90" y1="107.30" x2="505.90" y2="116.50" stroke="#a0a0a0" stroke-width="1.0"/>
<line x1="503.60" y1="92.98" x2="503.60" y2="102.18" stroke="#a0a0a0" stroke-width="1.0"/>
<line x1="501.30" y1="80.99" x2="501.30" y2="90.19" stroke="#a0a0a0" stroke-width="1.0"/>
<line x1="509.40" y1="123.85" x2="509.40" y2="133.05" stroke="#a0a0a0" stroke-width="1.0"/>
<line x1="515.40" y1="109.52" x2="515.40" y2="118.72" stroke="#a0a0a0" stroke-width="1.0"/>
<line x1="521.20" y1="104.75" x2="521.20" y2="113.95" stroke="#a0a0a0" stroke-width="1.0"/>
<line x1="525.90" y1="102.39" x2="525.90" y2="111.59" stroke="#a0a0a0" stroke-width="1.0"/>
<line x1="531.10" y1="120.37" x2="531.10" y2="129.57" stroke="#a0a0a0" stroke-width="1.0"/>
<line x1="535.80" y1="110.61" x2="535.80" y2="119.81" stroke="#a0a0a0" stroke-width="1.0"/>
<line x1="541.90" y1="104.59" x2="541.90" y2="113.79" stroke="#a0a0a0" stroke-width="1.0"/>
<line x1="533.40" y1="103.62" x2="533.40" y2="112.82" stroke="#a0a0a0" stroke-width="1.0"/>
<line x1="556.20" y1="88.93" x2="556.20" y2="98.13" stroke="#a0a0a0" stroke-width="1.0"/>
<line x1="559.90" y1="79.75" x2="559.90" y2="88.95" stroke="#a0a0a0" stroke-width="1.0"/>
<line x1="567.40" y1="74.86" x2="567.40" y2="84.06" stroke="#a0a0a0" stroke-width="1.0"/>
<line x1="545.50" y1="87.12" x2="545.50" y2="96.32" stroke="#a0a0a0" stroke-width="1.0"/>
<line x1="540.50" y1="85.68" x2="540.50" y2="94.88" stroke="#a0a0a0" stroke-width="1.0"/>
<line x1="531.10" y1="89.47" x2="531.10" y2="98.67" stroke="#a0a0a0" stroke-width="1.0"/>
<line x1="533.20" y1="88.19" x2="533.20" y2="97.39" stroke="#a0a0a0" stroke-width="1.0"/>
<line x1="522.40" y1="85.66" x2="522.40" y2="94.86" stroke="#a0a0a0" stroke-width="1.0"/>
<line x1="542.90" y1="73.90" x2="542.90" y2="83.10" stroke="#a0a0a0" stroke-width="1.0"/>
<line x1="550.30" y1="69.97" x2="550.30" y2="79.17" stroke="#a0a0a0" stroke-width="1.0"/>
<line x1="541.90" y1="66.85" x2="541.90" y2="76.05" stroke="#a0a0a0" stroke-width="1.0"/>
<line x1="388.80" y1="109.21" x2="388.80" y2="118.41" stroke="#a0a0a0" stroke-width="1.0"/>
<polyline points="383.80,113.15 388.80,113.81 405.00,117.02 406.10,106.58 428.00,50.86 427.00,108.98 435.90,109.89 439.30,108.46" fill="none" stroke="#000" stroke-width="1.25" stroke-linejoin="round" stroke-linecap="round"/>
<polyline points="383.80,113.15 390.00,111.46 399.80,109.72 405.00,117.02 411.70,123.39 417.00,130.60 427.50,130.55 428.00,131.66 439.30,108.46" fill="none" stroke="#000" stroke-width="1.25" stroke-linejoin="round" stroke-linecap="round"/>
<polyline points="417.00,130.60 439.30,108.46" fill="none" stroke="#000" stroke-width="1.25" stroke-linejoin="round" stroke-linecap="round"/>
<polyline points="421.70,121.26 432.80,121.51 439.30,108.46" fill="none" stroke="#000" stroke-width="1.25" stroke-linejoin="round" stroke-linecap="round"/>
<polyline points="430.40,128.47 435.90,109.89" fill="none" stroke="#000" stroke-width="1.25" stroke-linejoin="round" stroke-linecap="round"/>
<polyline points="430.40,128.47 450.60,120.68 460.60,113.43 464.00,117.95 473.60,107.23 486.10,75.34 501.30,85.59 503.60,97.58 505.90,111.90 509.40,128.45 531.10,124.97 535.80,115.21 521.20,109.35 515.40,114.12 503.60,97.58" fill="none" stroke="#000" stroke-width="1.25" stroke-linejoin="round" stroke-linecap="round"/>
<polyline points="473.60,107.23 482.50,99.05 483.70,113.51 482.50,120.64 473.60,107.23" fill="none" stroke="#000" stroke-width="1.25" stroke-linejoin="round" stroke-linecap="round"/>
<polyline points="482.50,120.64 480.10,123.98" fill="none" stroke="#000" stroke-width="1.25" stroke-linejoin="round" stroke-linecap="round"/>
<polyline points="525.90,106.99 535.80,115.21" fill="none" stroke="#000" stroke-width="1.25" stroke-linejoin="round" stroke-linecap="round"/>
<polyline points="525.90,106.99 533.40,108.22 541.90,109.19 541.90,71.45" fill="none" stroke="#000" stroke-width="1.25" stroke-linejoin="round" stroke-linecap="round"/>
<polyline points="533.40,108.22 556.20,93.53 567.40,79.46 559.90,84.35 550.30,74.57 542.90,78.50 505.90,111.90" fill="none" stroke="#000" stroke-width="1.25" stroke-linejoin="round" stroke-linecap="round"/>
<polyline points="498.90,29.68 507.10,53.15 504.50,61.99 522.40,90.26 531.10,94.07 533.20,92.79 540.50,90.28 545.50,91.72" fill="none" stroke="#000" stroke-width="1.25" stroke-linejoin="round" stroke-linecap="round"/>
<path d="M381.80 113.15L383.80 111.15L385.80 113.15L383.80 115.15Z" fill="#000"/>
<path d="M388.00 111.46L390.00 109.46L392.00 111.46L390.00 113.46Z" fill="#000"/>
<path d="M397.80 109.72L399.80 107.72L401.80 109.72L399.80 111.72Z" fill="#000"/>
<path d="M404.10 106.58L406.10 104.58L408.10 106.58L406.10 108.58Z" fill="#000"/>
<path d="M403.00 117.02L405.00 115.02L407.00 117.02L405.00 119.02Z" fill="#000"/>
<path d="M409.70 123.39L411.70 121.39L413.70 123.39L411.70 125.39Z" fill="#000"/>
<path d="M415.00 130.60L417.00 128.60L419.00 130.60L417.00 132.60Z" fill="#000"/>
<path d="M419.70 121.26L421.70 119.26L423.70 121.26L421.70 123.26Z" fill="#000"/>
<path d="M425.00 108.98L427.00 106.98L429.00 108.98L427.00 110.98Z" fill="#000"/>
<path d="M425.50 130.55L427.50 128.55L429.50 130.55L427.50 132.55Z" fill="#000"/>
<path d="M426.00 131.66L428.00 129.66L430.00 131.66L428.00 133.66Z" fill="#000"/>
<path d="M428.40 128.47L430.40 126.47L432.40 128.47L430.40 130.47Z" fill="#000"/>
<path d="M430.80 121.51L432.80 119.51L434.80 121.51L432.80 123.51Z" fill="#000"/>
<path d="M433.90 109.89L435.90 107.89L437.90 109.89L435.90 111.89Z" fill="#000"/>
<path d="M437.30 108.46L439.30 106.46L441.30 108.46L439.30 110.46Z" fill="#000"/>
<path d="M426.00 50.86L428.00 48.86L430.00 50.86L428.00 52.86Z" fill="#000"/>
<path d="M448.60 120.68L450.60 118.68L452.60 120.68L450.60 122.68Z" fill="#000"/>
<path d="M458.60 113.43L460.60 111.43L462.60 113.43L460.60 115.43Z" fill="#000"/>
<path d="M462.00 117.95L464.00 115.95L466.00 117.95L464.00 119.95Z" fill="#000"/>
<path d="M471.60 107.23L473.60 105.23L475.60 107.23L473.60 109.23Z" fill="#000"/>
<path d="M480.50 99.05L482.50 97.05L484.50 99.05L482.50 101.05Z" fill="#000"/>
<path d="M478.10 123.98L480.10 121.98L482.10 123.98L480.10 125.98Z" fill="#000"/>
<path d="M480.50 120.64L482.50 118.64L484.50 120.64L482.50 122.64Z" fill="#000"/>
<path d="M481.70 113.51L483.70 111.51L485.70 113.51L483.70 115.51Z" fill="#000"/>
<path d="M484.10 75.34L486.10 73.34L488.10 75.34L486.10 77.34Z" fill="#000"/>
<path d="M502.50 61.99L504.50 59.99L506.50 61.99L504.50 63.99Z" fill="#000"/>
<path d="M505.10 53.15L507.10 51.15L509.10 53.15L507.10 55.15Z" fill="#000"/>
<path d="M496.90 29.68L498.90 27.68L500.90 29.68L498.90 31.68Z" fill="#000"/>
<path d="M503.90 111.90L505.90 109.90L507.90 111.90L505.90 113.90Z" fill="#000"/>
<path d="M501.60 97.58L503.60 95.58L505.60 97.58L503.60 99.58Z" fill="#000"/>
<path d="M499.30 85.59L501.30 83.59L503.30 85.59L501.30 87.59Z" fill="#000"/>
<path d="M507.40 128.45L509.40 126.45L511.40 128.45L509.40 130.45Z" fill="#000"/>
<path d="M513.40 114.12L515.40 112.12L517.40 114.12L515.40 116.12Z" fill="#000"/>
<path d="M519.20 109.35L521.20 107.35L523.20 109.35L521.20 111.35Z" fill="#000"/>
<path d="M523.90 106.99L525.90 104.99L527.90 106.99L525.90 108.99Z" fill="#000"/>
<path d="M529.10 124.97L531.10 122.97L533.10 124.97L531.10 126.97Z" fill="#000"/>
<path d="M533.80 115.21L535.80 113.21L537.80 115.21L535.80 117.21Z" fill="#000"/>
<path d="M539.90 109.19L541.90 107.19L543.90 109.19L541.90 111.19Z" fill="#000"/>
<path d="M531.40 108.22L533.40 106.22L535.40 108.22L533.40 110.22Z" fill="#000"/>
<path d="M554.20 93.53L556.20 91.53L558.20 93.53L556.20 95.53Z" fill="#000"/>
<path d="M557.90 84.35L559.90 82.35L561.90 84.35L559.90 86.35Z" fill="#000"/>
<path d="M565.40 79.46L567.40 77.46L569.40 79.46L567.40 81.46Z" fill="#000"/>
<path d="M543.50 91.72L545.50 89.72L547.50 91.72L545.50 93.72Z" fill="#000"/>
<path d="M538.50 90.28L540.50 88.28L542.50 90.28L540.50 92.28Z" fill="#000"/>
<path d="M529.10 94.07L531.10 92.07L533.10 94.07L531.10 96.07Z" fill="#000"/>
<path d="M531.20 92.79L533.20 90.79L535.20 92.79L533.20 94.79Z" fill="#000"/>
<path d="M520.40 90.26L522.40 88.26L524.40 90.26L522.40 92.26Z" fill="#000"/>
<path d="M540.90 78.50L542.90 76.50L544.90 78.50L542.90 80.50Z" fill="#000"/>
<path d="M548.30 74.57L550.30 72.57L552.30 74.57L550.30 76.57Z" fill="#000"/>
<path d="M539.90 71.45L541.90 69.45L543.90 71.45L541.90 73.45Z" fill="#000"/>
<path d="M386.80 113.81L388.80 111.81L390.80 113.81L388.80 115.81Z" fill="#000"/>
<polyline points="375.12,339.90 370.40,340.72 375.97,332.96 378.81,330.52 389.29,325.74 396.75,321.45 403.83,323.66 412.23,308.33 419.50,325.39 442.92,317.26 461.14,310.20 463.32,304.92 477.38,306.74 488.81,306.54 491.55,304.16 503.26,294.80 507.60,288.49 495.89,289.56 485.51,288.30 493.63,283.99 502.78,268.18 506.75,261.49 510.06,258.58 514.12,258.34 524.12,259.85 535.74,253.58 537.34,247.62 540.55,240.70 557.64,226.02 565.10,253.00 559.06,259.33 516.00,279.79 524.97,279.16 524.97,282.43 528.75,283.97" fill="none" stroke="#000" stroke-width="1.25" stroke-linejoin="round" stroke-linecap="round"/>
<polyline points="491.55,304.16 493.63,283.99" fill="none" stroke="#000" stroke-width="1.25" stroke-linejoin="round" stroke-linecap="round"/>
<polyline points="503.26,294.80 495.89,289.56" fill="none" stroke="#000" stroke-width="1.25" stroke-linejoin="round" stroke-linecap="round"/>
<polyline points="483.52,251.27 501.18,231.98 513.93,267.86 516.00,279.79" fill="none" stroke="#000" stroke-width="1.25" stroke-linejoin="round" stroke-linecap="round"/>
<polyline points="519.12,235.22 511.19,269.94 516.00,279.79" fill="none" stroke="#000" stroke-width="1.25" stroke-linejoin="round" stroke-linecap="round"/>
<polyline points="533.85,260.53 535.74,253.58" fill="none" stroke="#000" stroke-width="1.25" stroke-linejoin="round" stroke-linecap="round"/>
<polyline points="493.63,283.99 507.03,275.86 507.98,280.53 524.97,279.16" fill="none" stroke="#000" stroke-width="1.25" stroke-linejoin="round" stroke-linecap="round"/>
<polyline points="495.89,289.56 499.01,284.24 504.67,280.77 506.56,284.23 506.18,287.24 528.75,283.97" fill="none" stroke="#000" stroke-width="1.25" stroke-linejoin="round" stroke-linecap="round"/>
<polyline points="507.60,288.49 524.97,282.43" fill="none" stroke="#000" stroke-width="1.25" stroke-linejoin="round" stroke-linecap="round"/>
<path d="M368.50 340.72L370.40 338.82L372.30 340.72L370.40 342.62Z" fill="#000"/>
<path d="M373.22 339.90L375.12 338.00L377.02 339.90L375.12 341.80Z" fill="#000"/>
<path d="M374.07 332.96L375.97 331.06L377.87 332.96L375.97 334.86Z" fill="#000"/>
<path d="M376.91 330.52L378.81 328.62L380.71 330.52L378.81 332.42Z" fill="#000"/>
<path d="M387.39 325.74L389.29 323.84L391.19 325.74L389.29 327.64Z" fill="#000"/>
<path d="M394.85 321.45L396.75 319.55L398.65 321.45L396.75 323.35Z" fill="#000"/>
<path d="M401.93 323.66L403.83 321.76L405.73 323.66L403.83 325.56Z" fill="#000"/>
<path d="M410.33 308.33L412.23 306.43L414.13 308.33L412.23 310.23Z" fill="#000"/>
<path d="M417.60 325.39L419.50 323.49L421.40 325.39L419.50 327.29Z" fill="#000"/>
<path d="M441.02 317.26L442.92 315.36L444.82 317.26L442.92 319.16Z" fill="#000"/>
<path d="M459.24 310.20L461.14 308.30L463.04 310.20L461.14 312.10Z" fill="#000"/>
<path d="M461.42 304.92L463.32 303.02L465.22 304.92L463.32 306.82Z" fill="#000"/>
<path d="M475.48 306.74L477.38 304.84L479.28 306.74L477.38 308.64Z" fill="#000"/>
<path d="M486.91 306.54L488.81 304.64L490.71 306.54L488.81 308.44Z" fill="#000"/>
<path d="M489.65 304.16L491.55 302.26L493.45 304.16L491.55 306.06Z" fill="#000"/>
<path d="M501.36 294.80L503.26 292.90L505.16 294.80L503.26 296.70Z" fill="#000"/>
<path d="M505.70 288.49L507.60 286.59L509.50 288.49L507.60 290.39Z" fill="#000"/>
<path d="M504.28 287.24L506.18 285.34L508.08 287.24L506.18 289.14Z" fill="#000"/>
<path d="M504.66 284.23L506.56 282.33L508.46 284.23L506.56 286.13Z" fill="#000"/>
<path d="M506.08 280.53L507.98 278.63L509.88 280.53L507.98 282.43Z" fill="#000"/>
<path d="M502.77 280.77L504.67 278.87L506.57 280.77L504.67 282.67Z" fill="#000"/>
<path d="M493.99 289.56L495.89 287.66L497.79 289.56L495.89 291.46Z" fill="#000"/>
<path d="M497.11 284.24L499.01 282.34L500.91 284.24L499.01 286.14Z" fill="#000"/>
<path d="M505.13 275.86L507.03 273.96L508.93 275.86L507.03 277.76Z" fill="#000"/>
<path d="M514.10 279.79L516.00 277.89L517.90 279.79L516.00 281.69Z" fill="#000"/>
<path d="M491.73 283.99L493.63 282.09L495.53 283.99L493.63 285.89Z" fill="#000"/>
<path d="M483.61 288.30L485.51 286.40L487.41 288.30L485.51 290.20Z" fill="#000"/>
<path d="M509.29 269.94L511.19 268.04L513.09 269.94L511.19 271.84Z" fill="#000"/>
<path d="M512.03 267.86L513.93 265.96L515.83 267.86L513.93 269.76Z" fill="#000"/>
<path d="M522.22 259.85L524.12 257.95L526.02 259.85L524.12 261.75Z" fill="#000"/>
<path d="M526.85 283.97L528.75 282.07L530.65 283.97L528.75 285.87Z" fill="#000"/>
<path d="M523.07 282.43L524.97 280.53L526.87 282.43L524.97 284.33Z" fill="#000"/>
<path d="M523.07 279.16L524.97 277.26L526.87 279.16L524.97 281.06Z" fill="#000"/>
<path d="M557.16 259.33L559.06 257.43L560.96 259.33L559.06 261.23Z" fill="#000"/>
<path d="M563.20 253.00L565.10 251.10L567.00 253.00L565.10 254.90Z" fill="#000"/>
<path d="M531.95 260.53L533.85 258.63L535.75 260.53L533.85 262.43Z" fill="#000"/>
<path d="M533.84 253.58L535.74 251.68L537.64 253.58L535.74 255.48Z" fill="#000"/>
<path d="M535.44 247.62L537.34 245.72L539.24 247.62L537.34 249.52Z" fill="#000"/>
<path d="M538.65 240.70L540.55 238.80L542.45 240.70L540.55 242.60Z" fill="#000"/>
<path d="M555.74 226.02L557.64 224.12L559.54 226.02L557.64 227.92Z" fill="#000"/>
<path d="M500.88 268.18L502.78 266.28L504.68 268.18L502.78 270.08Z" fill="#000"/>
<path d="M504.85 261.49L506.75 259.59L508.65 261.49L506.75 263.39Z" fill="#000"/>
<path d="M508.16 258.58L510.06 256.68L511.96 258.58L510.06 260.48Z" fill="#000"/>
<path d="M512.22 258.34L514.12 256.44L516.02 258.34L514.12 260.24Z" fill="#000"/>
<path d="M517.22 235.22L519.12 233.32L521.02 235.22L519.12 237.12Z" fill="#000"/>
<path d="M481.62 251.27L483.52 249.37L485.42 251.27L483.52 253.17Z" fill="#000"/>
<path d="M499.28 231.98L501.18 230.08L503.08 231.98L501.18 233.88Z" fill="#000"/>
</svg>
</body></html>
